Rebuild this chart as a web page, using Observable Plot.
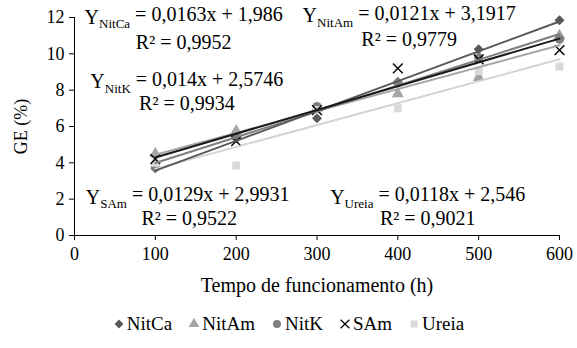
<!DOCTYPE html>
<html>
<head>
<meta charset="utf-8">
<script src="https://cdn.jsdelivr.net/npm/d3@7"></script>
<script src="https://cdn.jsdelivr.net/npm/@observablehq/plot@0.6"></script>
<style>
  html, body { margin: 0; padding: 0; background: #fff; }
  #chart { width: 577px; color: #000; }
  #chart, #chart * { font-family: "Liberation Serif", serif !important; }
  #legend { display: flex; justify-content: center; gap: 16px; font-size: 19px; line-height: 22px; margin-top: 8px; }
  #legend span.item { display: inline-flex; align-items: center; }
  #legend svg { margin-right: 2px; }
</style>
</head>
<body>
<div id="chart"></div>
<script>
// ---- data ----
const hours = [100, 200, 300, 400, 500, 600];
const series = ["NitCa", "NitAm", "NitK", "SAm", "Ureia"];
const nitCa = [3.7, 5.35, 6.45, 8.45, 10.25, 11.85];
const nitAm = [4.5, 5.75, 7.0, 7.8, 8.7, 11.0];
const nitK  = [3.75, 5.4, 7.1, 8.4, 9.8, 10.8];
const sAm   = [4.2, 5.2, 6.9, 9.2, 9.7, 10.2];
const ureia = [4.0, 3.85, 6.9, 7.0, 9.05, 9.3];
const xTicks = [0, 100, 200, 300, 400, 500, 600];
const yTicks = [0, 2, 4, 6, 8, 10, 12];
const eqLines = ["Y_NitCa = 0,0163x + 1,986", "Y_NitAm = 0,0121x + 3,1917", "Y_NitK = 0,014x + 2,5746", "Y_SAm = 0,0129x + 2,9931", "Y_Ureia = 0,0118x + 2,546"];
const r2Lines = ["R² = 0,9952", "R² = 0,9779", "R² = 0,9934", "R² = 0,9522", "R² = 0,9021"];

const colors = ["#595959", "#a6a6a6", "#7f7f7f", "#000000", "#d9d9d9"];
const lineColors = ["#595959", "#a6a6a6", "#7f7f7f", "#1a1a1a", "#d4d4d4"];
const symbols = ["diamond2", "triangle", "circle", "times", "square"];

const values = [nitCa, nitAm, nitK, sAm, ureia];
const data = series.flatMap((s, i) => hours.map((h, j) => ({s, x: h, y: values[i][j]})));

// annotation anchors (data units)
const eqAt = [[135, 12.0], [414, 12.1], [139, 8.45], [140, 2.1], [437, 2.1]];
const r2At = [[135, 10.6], [414, 10.8], [139, 7.25], [142, 0.95], [437, 0.95]];
const eqData = eqLines.map((t, i) => ({t, x: eqAt[i][0], y: eqAt[i][1]}));
const r2Data = r2Lines.map((t, i) => ({t, x: r2At[i][0], y: r2At[i][1]}));

const FF = '"Liberation Serif", serif';
const plot = Plot.plot({
  width: 577,
  height: 305,
  marginLeft: 74,
  marginRight: 18,
  marginTop: 17,
  marginBottom: 70,
  style: {fontFamily: FF, fontSize: "18px", color: "#000", background: "#fff"},
  x: {domain: [0, 600]},
  y: {domain: [0, 12]},
  color: {domain: series, range: colors},
  symbol: {domain: series, range: symbols},
  marks: [
    Plot.axisX({ticks: xTicks, tickSize: 5, tickPadding: 7, label: null, fontSize: 18, fontFamily: FF}),
    Plot.axisX({ticks: [], label: "Tempo de funcionamento (h)", labelAnchor: "center", labelOffset: 56, labelArrow: "none", fontSize: 20, fontFamily: FF}),
    Plot.axisY({ticks: yTicks, tickSize: 5, tickPadding: 5, label: "GE (%)", labelAnchor: "center", labelOffset: 60, labelArrow: "none", fontSize: 18, fontFamily: FF}),
    Plot.ruleX([0], {stroke: "#000"}),
    Plot.ruleY([0], {stroke: "#000"}),
    Plot.dot(data.filter(d => d.s !== "SAm"), {x: "x", y: "y", fill: "s", symbol: "s", r: 4.5}),
    Plot.dot(data.filter(d => d.s === "SAm"), {x: "x", y: "y", stroke: "#000", symbol: "s", r: 4.5, strokeWidth: 1.4}),
    ...[4, 1, 2, 0, 3].map(i => Plot.linearRegressionY(data.filter(d => d.s === series[i]), {x: "x", y: "y", stroke: lineColors[i], strokeWidth: 2, ci: 0})),
    Plot.text(eqData, {x: "x", y: "y", text: "t", textAnchor: "middle", fontSize: 20, fontFamily: FF, fill: "#000"}),
    Plot.text(r2Data, {x: "x", y: "y", text: "t", textAnchor: "middle", fontSize: 20, fontFamily: FF, fill: "#000"})
  ]
});

// subscripts for Y_xxx labels
d3.select(plot).selectAll("text").each(function() {
  const el = d3.select(this);
  if (el.selectAll("tspan").size() > 0) return;
  const t = el.text();
  const m = /^Y_(\S+) (.*)$/.exec(t);
  if (!m) return;
  el.text("");
  el.append("tspan").text("Y");
  el.append("tspan").attr("font-size", 13).attr("dy", "0.35em").text(m[1]);
  el.append("tspan").attr("font-size", 20).attr("dy", "-0.35em").text(" " + m[2]);
});

const chart = document.getElementById("chart");
chart.appendChild(plot);

// legend
const legend = document.createElement("div");
legend.id = "legend";
const symTypes = [d3.symbolDiamond2, d3.symbolTriangle, d3.symbolCircle, d3.symbolTimes, d3.symbolSquare];
series.forEach((s, i) => {
  const item = document.createElement("span");
  item.className = "item";
  const sym = d3.create("svg").attr("width", 12).attr("height", 12);
  const p = sym.append("path").attr("transform", "translate(6,6)").attr("d", d3.symbol(symTypes[i], 50)());
  if (s === "SAm") p.attr("fill", "none").attr("stroke", "#000").attr("stroke-width", 1.3);
  else p.attr("fill", colors[i]);
  item.appendChild(sym.node());
  item.appendChild(document.createTextNode(s));
  legend.appendChild(item);
});
chart.appendChild(legend);
</script>
</body>
</html>
